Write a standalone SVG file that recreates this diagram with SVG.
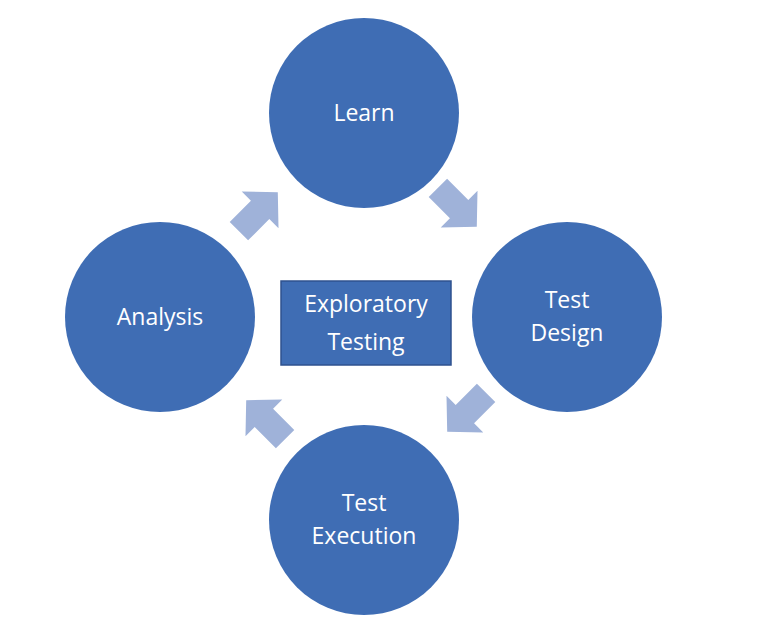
<svg xmlns="http://www.w3.org/2000/svg" width="768" height="629" viewBox="0 0 768 629">
<style>
.c{fill:#3f6db4}
.t{font-family:"Open Sans","Liberation Sans",sans-serif;font-size:23px;fill:#fff;text-anchor:middle}
.a{fill:#9fb2d9}
</style>
<defs><path id="ar" d="M-27,-13 L3,-13 L3,-26 L28,0 L3,26 L3,13 L-27,13 Z"/></defs>
<rect width="768" height="629" fill="#fff"/>
<g id="connectors">
<use href="#ar" class="a" transform="translate(457,207) rotate(45)"/>
<use href="#ar" class="a" transform="translate(467,412) rotate(135)"/>
<use href="#ar" class="a" transform="translate(266,420) rotate(225)"/>
<use href="#ar" class="a" transform="translate(258,212) rotate(-45)"/>
</g>
<g id="learn"><circle class="c" cx="364" cy="113" r="95"/><text class="t" x="364" y="121">Learn</text></g>
<g id="design"><circle class="c" cx="567" cy="317" r="95"/><text class="t" x="567" y="308">Test</text><text class="t" x="567" y="341">Design</text></g>
<g id="execution"><circle class="c" cx="364" cy="520" r="95"/><text class="t" x="364" y="511">Test</text><text class="t" x="364" y="544">Execution</text></g>
<g id="analysis"><circle class="c" cx="160" cy="317" r="95"/><text class="t" x="160" y="325">Analysis</text></g>
<g id="center"><rect x="281" y="281" width="170" height="84" fill="#3f6db4" stroke="#2f528f" stroke-width="1.5"/><text class="t" x="366" y="312">Exploratory</text><text class="t" x="366" y="350">Testing</text></g>
</svg>
